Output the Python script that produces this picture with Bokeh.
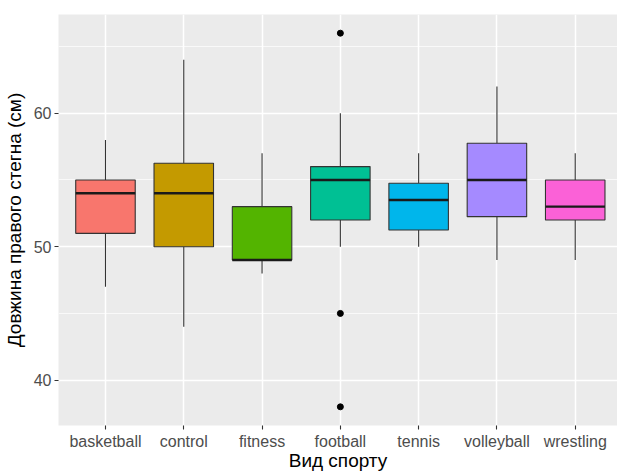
from bokeh.plotting import figure
from bokeh.models import Range1d, FixedTicker, ColumnDataSource
from bokeh.embed import file_html
from bokeh.resources import INLINE

sports = ["basketball", "control", "fitness", "football", "tennis", "volleyball", "wrestling"]
lower = [47, 44, 48, 50, 50, 49, 49]
q1 = [51, 50, 49, 52, 51.25, 52.25, 52]
med = [54, 54, 49, 55, 53.5, 55, 53]
q3 = [55, 56.25, 53, 56, 54.75, 57.75, 55]
upper = [58, 64, 57, 60, 57, 62, 57]
colors = ["#F8766D", "#C49A00", "#53B400", "#00C094", "#00B6EB", "#A58AFF", "#FB61D7"]
out_sport = ["football", "football", "football"]
out_vals = [66, 45, 38]
y_ticks = [40, 50, 60]
y_minor = [45, 55, 65]

xs = list(range(1, len(sports) + 1))
bw = 0.38
src = ColumnDataSource(dict(x=xs, lower=lower, q1=q1, med=med, q3=q3, upper=upper,
                            color=colors,
                            left=[x - bw for x in xs], right=[x + bw for x in xs]))
out_x = [sports.index(s) + 1 for s in out_sport]

p = figure(width=617, height=473, output_backend="svg", toolbar_location=None,
           x_range=Range1d(0.4, 7.54), y_range=Range1d(36.6, 67.4),
           min_border_left=58, min_border_right=0, min_border_top=14, min_border_bottom=0)
p.background_fill_color = "#EBEBEB"
p.border_fill_color = "white"
p.outline_line_color = None

# grid
p.xgrid.ticker = FixedTicker(ticks=xs)
p.xgrid.grid_line_color = "white"
p.xgrid.grid_line_width = 1.5
p.ygrid.ticker = FixedTicker(ticks=y_ticks, minor_ticks=y_minor)
p.ygrid.grid_line_color = "white"
p.ygrid.grid_line_width = 1.5
p.ygrid.minor_grid_line_color = "white"
p.ygrid.minor_grid_line_width = 0.7

# whiskers
p.segment(x0="x", y0="q3", x1="x", y1="upper", source=src, line_color="#333333", line_width=1.1)
p.segment(x0="x", y0="lower", x1="x", y1="q1", source=src, line_color="#333333", line_width=1.1)
# boxes
p.quad(left="left", right="right", bottom="q1", top="q3", source=src,
       fill_color="color", line_color="#333333", line_width=1.1)
# medians
p.segment(x0="left", y0="med", x1="right", y1="med", source=src, line_color="#1a1a1a", line_width=2.4)
# outliers
p.scatter(out_x, out_vals, size=6, color="black")

# axes
for ax in (p.xaxis[0], p.yaxis[0]):
    ax.axis_line_color = None
    ax.major_tick_line_color = "#333333"
    ax.major_tick_line_width = 1.1
    ax.major_tick_in = 0
    ax.major_tick_out = 4
    ax.minor_tick_line_color = None
    ax.major_label_text_color = "#4D4D4D"
    ax.major_label_text_font = "Liberation Sans"
    ax.major_label_text_font_size = "16px"
    ax.axis_label_text_font = "Liberation Sans"
    ax.axis_label_text_font_size = "19px"
    ax.axis_label_text_font_style = "normal"
    ax.axis_label_text_color = "black"
    ax.major_label_standoff = 3

p.xaxis.ticker = FixedTicker(ticks=xs)
p.xaxis.major_label_overrides = {x: s for x, s in zip(xs, sports)}
p.xaxis.axis_label = "Вид спорту"
p.xaxis.axis_label_standoff = -3
p.yaxis.ticker = FixedTicker(ticks=y_ticks)
p.yaxis.axis_label = "Довжина правого стегна (см)"
p.yaxis.axis_label_standoff = 6

open("out.html", "w").write(file_html(p, INLINE))
